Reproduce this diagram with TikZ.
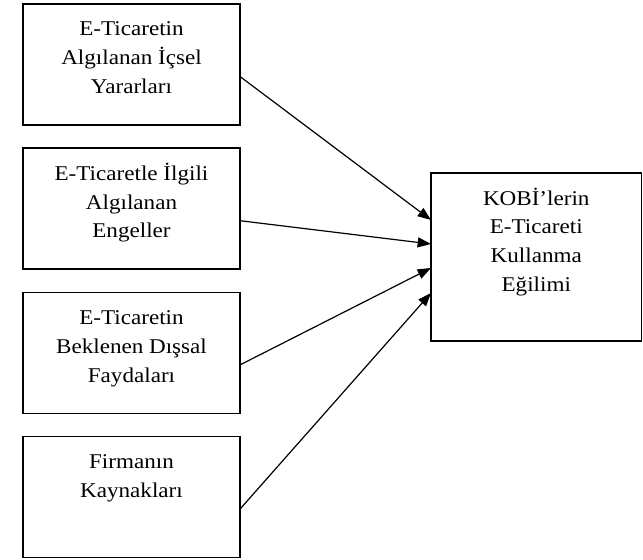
\documentclass[tikz,border=0pt]{standalone}
\usepackage{fontspec}
\setmainfont{Liberation Serif}[FakeStretch=1.1]
\usepackage{tikz}
\usetikzlibrary{arrows.meta,positioning}
\tikzset{
  FB/.style={rectangle,draw,line width=1.1pt,inner sep=0pt,outer sep=0pt},
  arr/.style={-{Triangle[length=10pt,width=7.5pt]},line width=0.9pt}
}
% text set from the top of a box: width, height, lines
\newcommand{\boxtxt}[3]{\parbox[c][#2][t]{#1}{\centering\fontsize{15.75pt}{21.6pt}\selectfont\rule{0pt}{24pt}#3}}

\begin{document}
\begin{tikzpicture}[x=0.75pt,y=-0.75pt,node distance=17.4pt]
  \useasboundingbox (0,0) rectangle (643,560);

  \node[FB] (yarar) at (131.5,64.5) {\boxtxt{162.75pt}{90.75pt}{E-Ticaretin\\Algılanan İçsel\\Yararları}};
  \node[FB,below=of yarar] (engel) {\boxtxt{162.75pt}{90.75pt}{E-Ticaretle İlgili\\Algılanan\\Engeller}};
  \node[FB,below=of engel] (fayda) {\boxtxt{162.75pt}{90.75pt}{E-Ticaretin\\Beklenen Dışsal\\Faydaları}};
  \node[FB,below=of fayda] (kaynak) {\boxtxt{162.75pt}{90.75pt}{Firmanın\\Kaynakları}};

  \node[FB] (egilim) at (536.25,257) {\boxtxt{157.9pt}{126pt}{KOBİ’lerin\\E-Ticareti\\Kullanma\\Eğilimi}};

  \draw[arr]([yshift=-9pt]yarar.east)--([yshift=27.75pt]egilim.west);
  \draw[arr]([yshift=-9pt]engel.east)--([yshift=9.75pt]egilim.west);
  \draw[arr]([yshift=-9pt]fayda.east)--([yshift=-8.25pt]egilim.west);
  \draw[arr]([yshift=-9pt]kaynak.east)--([yshift=-27pt]egilim.west);
\end{tikzpicture}
\end{document}
